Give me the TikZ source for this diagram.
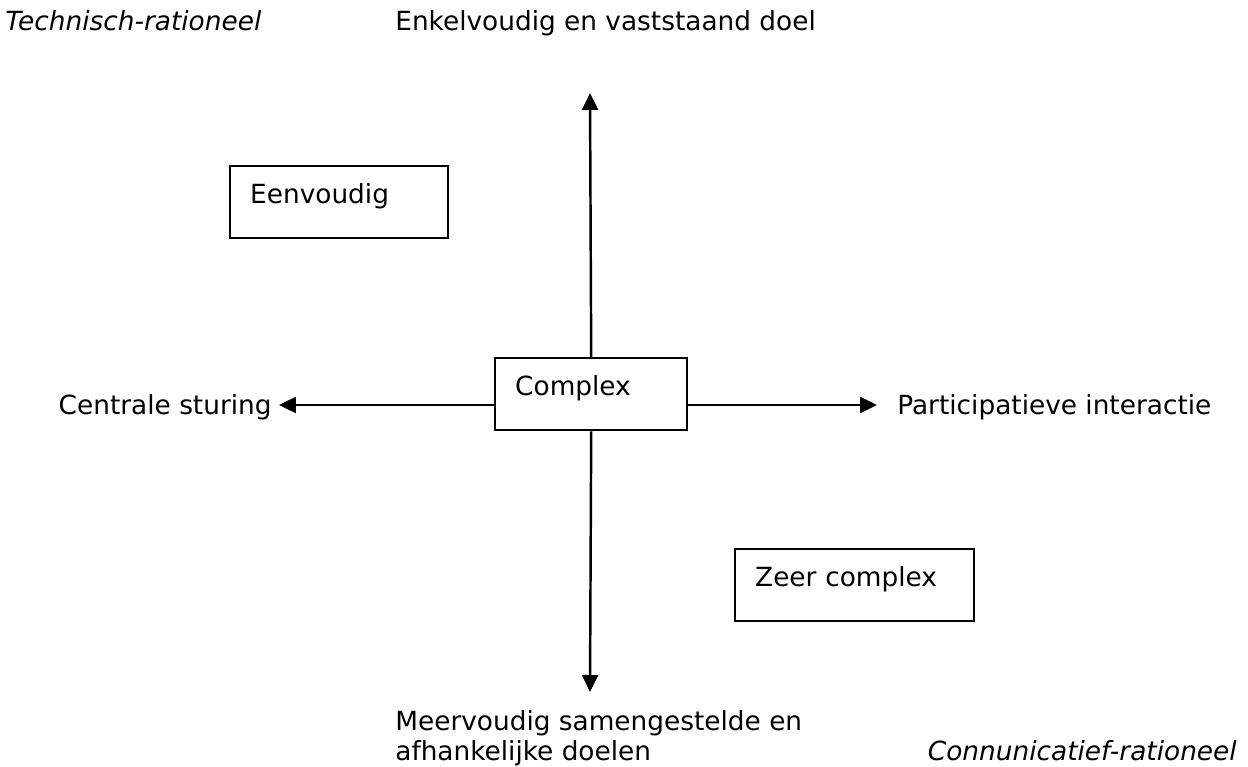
\documentclass[tikz,border=0pt]{standalone}
\usepackage{fontspec}
\setmainfont{DejaVu Sans}
\usetikzlibrary{arrows.meta}
\tikzset{
  vak/.style={draw,line width=1.4pt,anchor=north west,align=left,
    inner xsep=0.4cm,inner ysep=0pt,text height=0.74cm,text depth=0.70cm},
  tekst/.style={inner sep=0pt},
  pijl/.style={line width=1.4pt,-{Triangle[length=0.34cm,width=0.32cm]}}
}
\begin{document}
\begin{tikzpicture}[x=0.02cm,y=-0.02cm,every node/.style={font=\fontsize{15}{17}\selectfont}]
\useasboundingbox (0,0) rectangle (1248,767);
% vakken
\node[vak,text width=3.56cm] (eenvoudig) at (229,165) {Eenvoudig};
\node[vak,text width=3.04cm] (complex) at (494,357) {Complex};
\node[vak,text width=3.98cm] (zeer) at (734,548) {Zeer complex};
% assen
\node[tekst,anchor=base west] (techn) at (5,31) {\itshape Technisch-rationeel};
\node[tekst,anchor=base west] (enkel) at (395,31) {Enkelvoudig en vaststaand doel};
\node[tekst,anchor=base east] (centraal) at (272,414) {Centrale sturing};
\node[tekst,anchor=base west] (partic) at (897,414) {Participatieve interactie};
\node[tekst,anchor=north west,align=left] (meerv) at (395,710) {Meervoudig samengestelde en\\afhankelijke doelen};
\node[tekst,anchor=base east] (commun) at (1237,760) {\itshape Connunicatief-rationeel};
\coordinate (boven) at (590,93);
\coordinate (onder) at (590,692);
\coordinate (links) at (279,405);
\coordinate (rechts) at (877,405);
\draw[pijl] (complex.north) -- (boven);
\draw[pijl] (complex.south) -- (onder);
\draw[pijl] (complex.west |- links) -- (links);
\draw[pijl] (complex.east |- rechts) -- (rechts);
\end{tikzpicture}
\end{document}
